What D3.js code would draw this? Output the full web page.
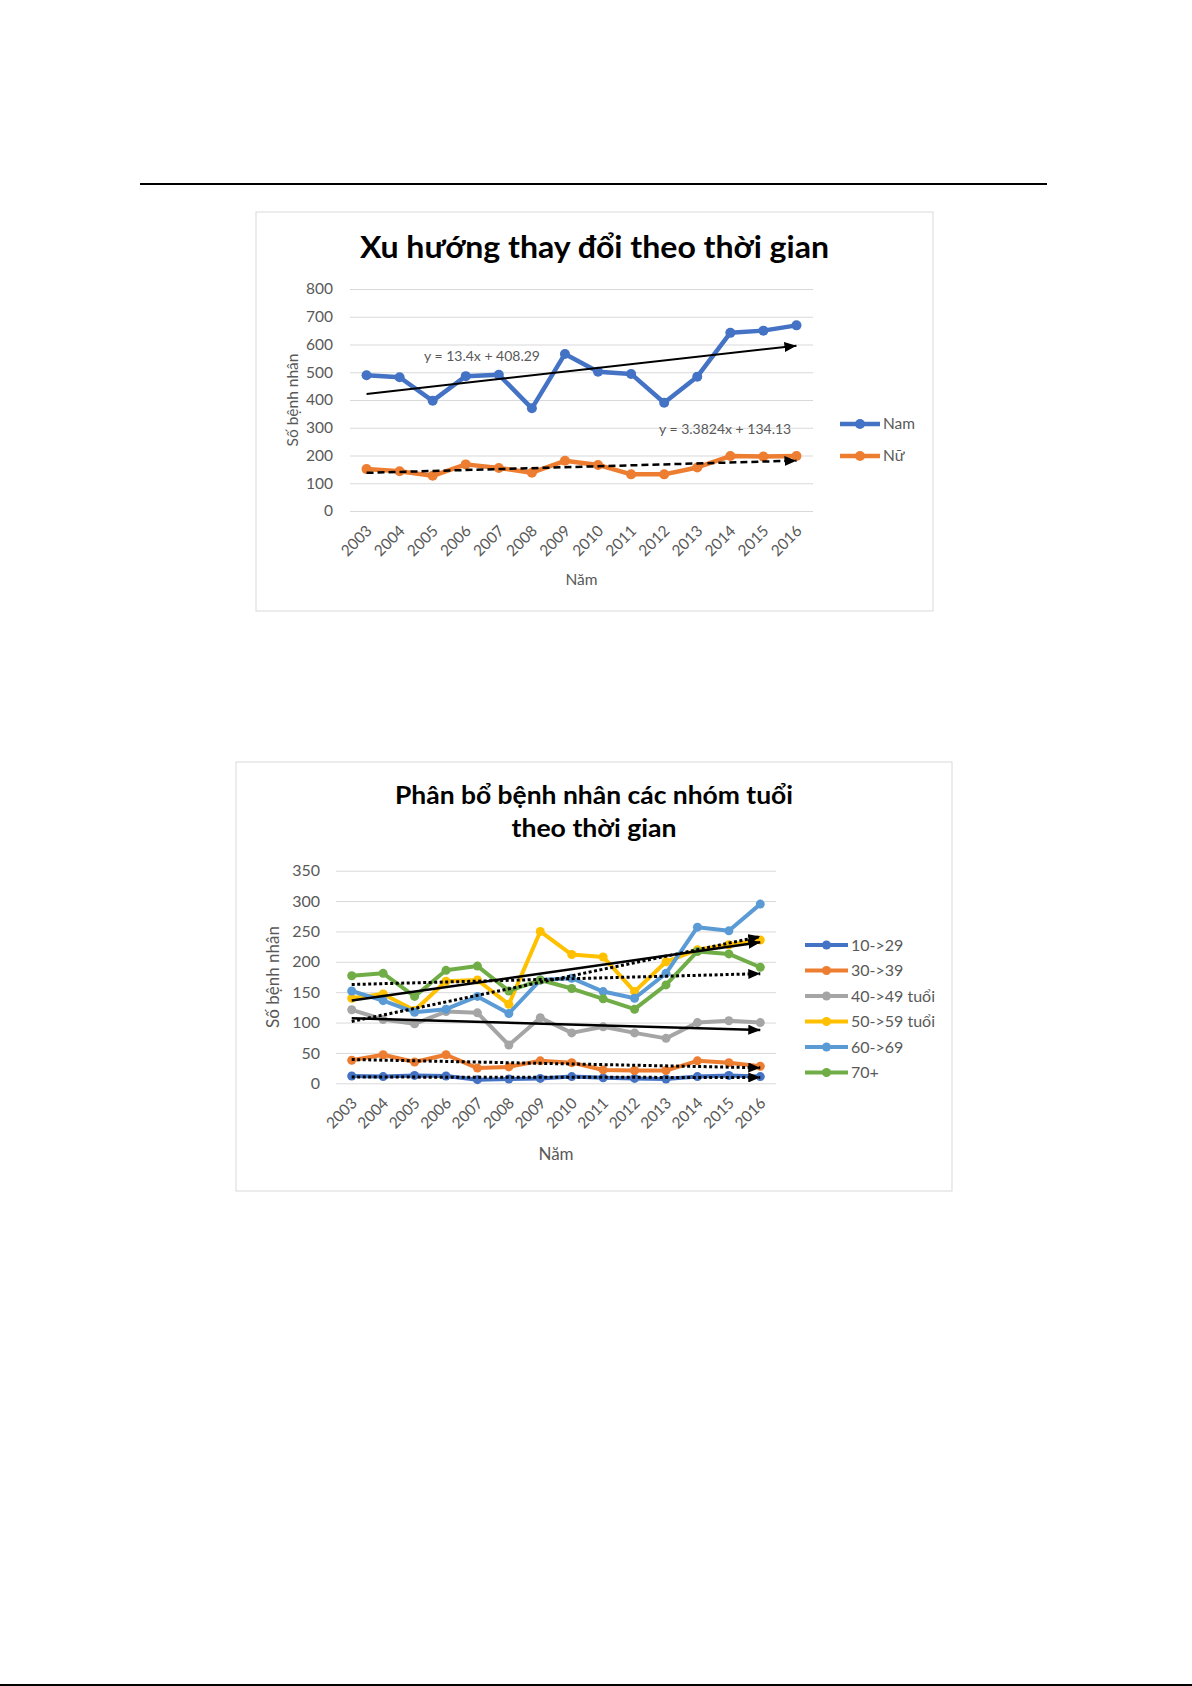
<!doctype html>
<html>
<head>
<meta charset="utf-8">
<script src="https://d3js.org/d3.v7.min.js"></script>
<style>
    body { margin: 0; background: #fff; }
    text { font-family: Lato, "Open Sans", sans-serif; }
</style>
</head>
<body>
<svg width="1192" height="1686"></svg>
<script>
    // ---- data ----
    var years = ["2003", "2004", "2005", "2006", "2007", "2008", "2009",
                 "2010", "2011", "2012", "2013", "2014", "2015", "2016"];

    // chart 1: male / female
    var sexNames = ["Nam", "Nữ"];
    var namValues = [489, 482, 397, 486, 491, 370, 566, 502, 494, 390, 484, 642, 650, 669];
    var nuValues  = [151, 143, 127, 168, 155, 138, 181, 166, 132, 132, 157, 198, 196, 198];
    var sexTrendCoef = [[13.4, 408.29], [3.3824, 134.13]];
    var sexTrendLabels = ["y = 13.4x + 408.29", "y = 3.3824x + 134.13"];
    var sexTicks = [0, 100, 200, 300, 400, 500, 600, 700, 800];

    // chart 2: age groups
    var ageGroups = ["10->29", "30->39", "40->49 tuổi", "50->59 tuổi", "60->69", "70+"];
    var age10to29 = [12, 11, 13, 12, 6, 7, 8, 11, 9, 8, 7, 11, 13, 11];
    var age30to39 = [38, 47, 35, 47, 25, 27, 37, 34, 22, 21, 21, 37, 34, 28];
    var age40to49 = [121, 105, 98, 118, 116, 63, 108, 83, 93, 83, 74, 100, 103, 100];
    var age50to59 = [140, 147, 120, 168, 170, 130, 250, 212, 208, 151, 200, 220, 228, 236];
    var age60to69 = [152, 136, 117, 122, 143, 115, 170, 173, 151, 140, 181, 257, 251, 295];
    var age70plus = [177, 181, 143, 186, 193, 152, 170, 156, 139, 122, 162, 217, 213, 191];
    var ageTicks = [0, 50, 100, 150, 200, 250, 300, 350];

    var svg = d3.select("svg");
    var grey = "#595959";

    // arrow head for the trend lines
    svg.append("defs").append("marker")
        .attr("id", "arrow")
        .attr("viewBox", "0 0 12 10")
        .attr("refX", 12)
        .attr("refY", 5)
        .attr("markerWidth", 12)
        .attr("markerHeight", 10)
        .attr("markerUnits", "userSpaceOnUse")
        .attr("orient", "auto")
      .append("path")
        .attr("d", "M0,0 L12,5 L0,10 Z")
        .attr("fill", "#000");

    // page rule above the first chart
    svg.append("line")
        .attr("x1", 140).attr("x2", 1047)
        .attr("y1", 184).attr("y2", 184)
        .attr("stroke", "#000").attr("stroke-width", 2);

    // least squares fit with x = 1..n, like the spreadsheet trendline
    function linearFit(values) {
        var n = values.length;
        var xs = d3.range(1, n + 1);
        var mx = d3.mean(xs), my = d3.mean(values);
        var sxy = d3.sum(xs, (x, i) => (x - mx) * (values[i] - my));
        var sxx = d3.sum(xs, x => (x - mx) * (x - mx));
        var slope = sxy / sxx;
        return [slope, my - slope * mx];
    }

    function drawChart(o) {
        var g = svg.append("g");

        g.append("rect")
            .attr("x", o.box[0]).attr("y", o.box[1])
            .attr("width", o.box[2]).attr("height", o.box[3])
            .attr("fill", "#fff")
            .attr("stroke", "#d9d9d9");

        o.title.forEach(function (t) {
            g.append("text")
                .attr("x", o.box[0] + o.box[2] / 2)
                .attr("y", t.y)
                .attr("text-anchor", "middle")
                .attr("font-weight", "bold")
                .attr("font-size", t.size)
                .attr("textLength", t.len)
                .attr("lengthAdjust", "spacingAndGlyphs")
                .attr("fill", "#000")
                .text(t.text);
        });

        var x = d3.scalePoint().domain(years).range([o.plot[0], o.plot[1]]).padding(0.5);
        var y = d3.scaleLinear().domain([0, d3.max(o.ticks)]).range([o.plot[3], o.plot[2]]);

        // grid + y labels
        var yAxis = g.append("g")
            .attr("transform", "translate(" + o.plot[0] + ",0)")
            .call(d3.axisLeft(y).tickValues(o.ticks)
                .tickSize(-(o.plot[1] - o.plot[0]))
                .tickPadding(o.yPad));
        yAxis.select(".domain").remove();
        yAxis.selectAll("line").attr("stroke", "#d9d9d9");
        yAxis.selectAll("text")
            .attr("fill", grey)
            .style("font-family", "Lato, sans-serif")
            .style("font-size", o.tickSize + "px");

        // x labels, rotated
        var xAxis = g.append("g")
            .attr("transform", "translate(0," + o.plot[3] + ")")
            .call(d3.axisBottom(x).tickSize(0));
        xAxis.select(".domain").remove();
        xAxis.selectAll("text")
            .attr("x", 0).attr("y", 0).attr("dy", "0.35em")
            .attr("text-anchor", "end")
            .attr("transform", "translate(2,17) rotate(-45)")
            .attr("fill", grey)
            .style("font-family", "Lato, sans-serif")
            .style("font-size", o.xTickSize + "px");

        // axis titles
        g.append("text")
            .attr("transform", "translate(" + o.yTitle[0] + "," + o.yTitle[1] + ") rotate(-90)")
            .attr("text-anchor", "middle")
            .attr("dy", "0.35em")
            .attr("font-size", o.axisTitleSize)
            .attr("fill", grey)
            .text("Số bệnh nhân");

        g.append("text")
            .attr("x", (o.plot[0] + o.plot[1]) / 2)
            .attr("y", o.xTitleY)
            .attr("text-anchor", "middle")
            .attr("font-size", o.axisTitleSize)
            .attr("fill", grey)
            .text("Năm");

        // series
        var line = d3.line().x((d, i) => x(years[i])).y(d => y(d));
        o.series.forEach(function (s) {
            g.append("path")
                .attr("d", line(s.values))
                .attr("fill", "none")
                .attr("stroke", s.color)
                .attr("stroke-width", o.lineWidth)
                .attr("stroke-linejoin", "round");
            g.selectAll(null)
                .data(s.values)
                .enter()
                .append("circle")
                .attr("cx", (d, i) => x(years[i]))
                .attr("cy", d => y(d))
                .attr("r", o.r)
                .attr("fill", s.color);
        });

        // trend lines on top
        o.series.forEach(function (s) {
            var c = s.trend;
            var n = s.values.length;
            g.append("line")
                .attr("x1", x(years[0])).attr("y1", y(c[0] * 1 + c[1]))
                .attr("x2", x(years[n - 1])).attr("y2", y(c[0] * n + c[1]))
                .attr("stroke", "#000")
                .attr("stroke-width", s.trendWidth)
                .attr("stroke-dasharray", s.dash)
                .attr("marker-end", "url(#arrow)");
        });

        // legend
        o.series.forEach(function (s, i) {
            var ly = o.legend.y + i * o.legend.dy;
            g.append("line")
                .attr("x1", o.legend.x).attr("x2", o.legend.x + o.legend.w)
                .attr("y1", ly).attr("y2", ly)
                .attr("stroke", s.color)
                .attr("stroke-width", o.lineWidth);
            g.append("circle")
                .attr("cx", o.legend.x + o.legend.w / 2)
                .attr("cy", ly)
                .attr("r", o.r)
                .attr("fill", s.color);
            g.append("text")
                .attr("x", o.legend.x + o.legend.w + 3)
                .attr("y", ly)
                .attr("dy", "0.35em")
                .attr("font-size", o.legend.size)
                .attr("fill", grey)
                .text(s.name);
        });

        return {g: g, x: x, y: y};
    }

    // ---- chart 1 ----
    var c1 = drawChart({
        box: [256, 212, 677, 399],
        plot: [350, 813, 289, 511],
        ticks: sexTicks,
        yPad: 17, tickSize: 15.5, xTickSize: 15.5,
        yTitle: [293, 400], xTitleY: 585, axisTitleSize: 15.5,
        title: [{text: "Xu hướng thay đổi theo thời gian", y: 258, size: 30, len: 469}],
        lineWidth: 4.5, r: 5,
        legend: {x: 840, y: 424, dy: 32, w: 40, size: 15.5},
        series: [
            {name: sexNames[0], values: namValues, color: "#4472c4",
             trend: sexTrendCoef[0], dash: null, trendWidth: 2},
            {name: sexNames[1], values: nuValues, color: "#ed7d31",
             trend: sexTrendCoef[1], dash: "7,4", trendWidth: 2.5}
        ]
    });

    c1.g.append("text")
        .attr("x", 424).attr("y", 361)
        .attr("font-size", 14).attr("fill", grey)
        .text(sexTrendLabels[0]);
    c1.g.append("text")
        .attr("x", 659).attr("y", 434)
        .attr("font-size", 14).attr("fill", grey)
        .text(sexTrendLabels[1]);

    // ---- chart 2 ----
    var ageValues = [age10to29, age30to39, age40to49, age50to59, age60to69, age70plus];
    var ageColors = ["#4472c4", "#ed7d31", "#a5a5a5", "#ffc000", "#5b9bd5", "#70ad47"];
    var ageDash = ["3,2.5", "3,2.5", null, null, "3,2.5", "3,2.5"];

    drawChart({
        box: [236, 762, 716, 429],
        plot: [336, 776, 870.7, 1083.3],
        ticks: ageTicks,
        yPad: 16, tickSize: 16, xTickSize: 15.5,
        yTitle: [273, 977], xTitleY: 1160, axisTitleSize: 17,
        title: [
            {text: "Phân bổ bệnh nhân các nhóm tuổi", y: 804, size: 25, len: 398},
            {text: "theo thời gian", y: 837, size: 25, len: 165}
        ],
        lineWidth: 4, r: 4.5,
        legend: {x: 805, y: 945, dy: 25.5, w: 43, size: 16},
        series: ageGroups.map(function (name, i) {
            return {name: name, values: ageValues[i], color: ageColors[i],
                    trend: linearFit(ageValues[i]), dash: ageDash[i],
                    trendWidth: ageDash[i] ? 3 : 2.5};
        })
    });

    // page edge rule at the bottom
    svg.append("line")
        .attr("x1", 0).attr("x2", 1192)
        .attr("y1", 1685).attr("y2", 1685)
        .attr("stroke", "#000").attr("stroke-width", 2);
</script>
</body>
</html>
